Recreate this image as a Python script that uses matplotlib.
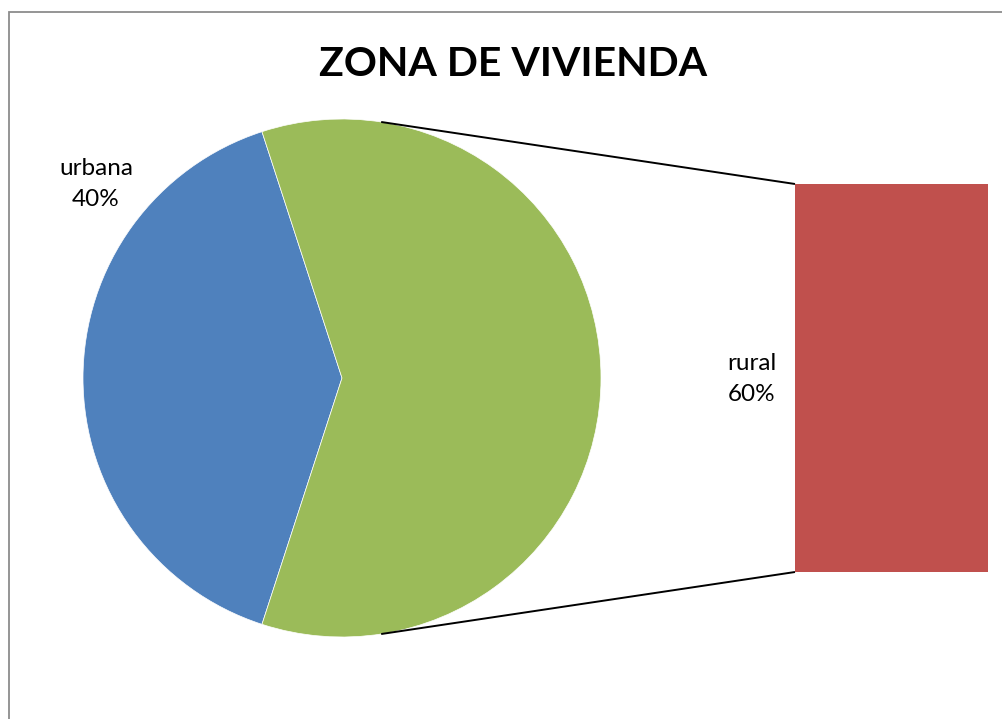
import matplotlib
matplotlib.use("Agg")
import matplotlib.pyplot as plt
from matplotlib.patches import Rectangle
import numpy as np

plt.rcParams['font.family'] = ['Lato', 'DejaVu Sans']

title = "ZONA DE VIVIENDA"
categories = ["urbana", "rural"]
values = [40, 60]
colors = ["#4F81BD", "#9BBB59"]
bar_color = "#C0504D"

W, H = 1003, 719
fig = plt.figure(figsize=(W / 100, H / 100), dpi=100)
ax = fig.add_axes([0, 0, 1, 1])

# pie
cx, cy, r = 342, H - 378, 259
start = 180 - values[0] / sum(values) * 360 / 2
ax.pie(values, colors=colors, startangle=start, counterclock=True,
       center=(cx, cy), radius=r, frame=True,
       wedgeprops=dict(linewidth=0.5, edgecolor='white'))
ax.set_xlim(0, W)
ax.set_ylim(0, H)
ax.set_aspect('equal')
ax.axis('off')

# bar of the second slice
bar_x0, bar_w = 795, 193
k = 388 / values[1]
bar_h = values[1] * k
bar_bottom = cy - bar_h / 2
ax.bar(bar_x0 + bar_w / 2, bar_h, width=bar_w, bottom=bar_bottom,
       color=bar_color, edgecolor='none')

# connector lines
ang = np.deg2rad(81.3)
px, py = cx + r * np.cos(ang), cy + r * np.sin(ang)
ax.plot([px, bar_x0], [py, bar_bottom + bar_h], color='black', lw=1.4, solid_capstyle='butt')
ax.plot([px, bar_x0], [cy - (py - cy), bar_bottom], color='black', lw=1.4, solid_capstyle='butt')

# labels
ax.text(96, H - 184, f"{categories[0]}\n{values[0]}%", ha='center', va='center',
        fontsize=17.5, linespacing=1.55, color='black')
ax.text(752, H - 379, f"{categories[1]}\n{values[1]}%", ha='center', va='center',
        fontsize=17.5, linespacing=1.55, color='black')

ax.text(513, H - 64, title, ha='center', va='center', fontsize=29.5,
        fontweight='bold', color='black')

# chart frame (partially cropped)
fig.patches.append(Rectangle((9.5 / W, -0.1), 1.2, (H - 12) / H + 0.1,
                             transform=fig.transFigure, fill=False,
                             edgecolor='#8C8C8C', lw=1.3))

fig.savefig("out.png", dpi=100)
